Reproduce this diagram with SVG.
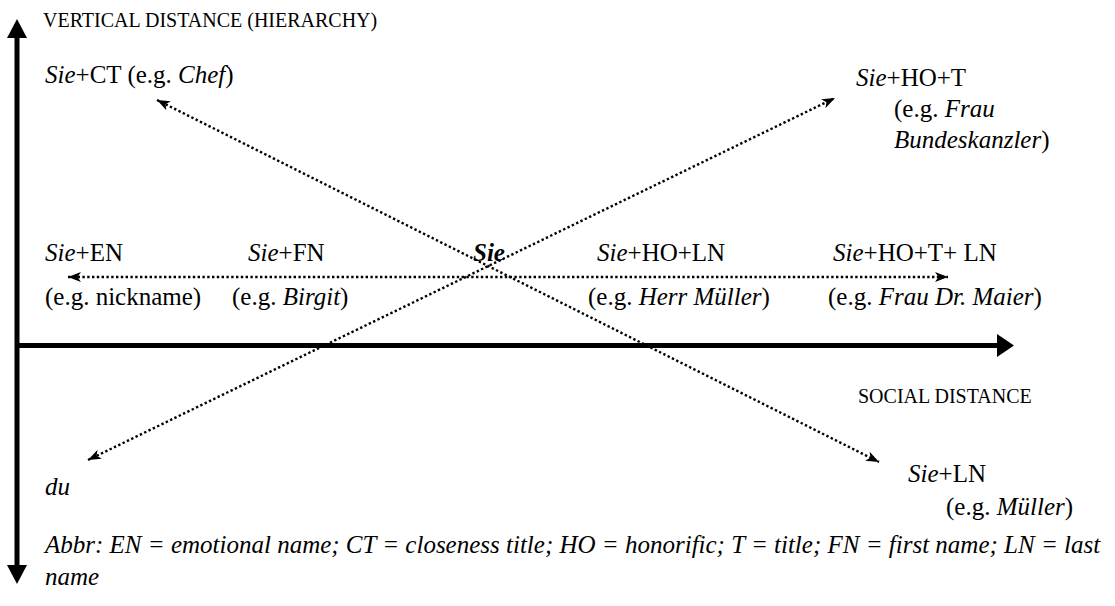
<svg xmlns="http://www.w3.org/2000/svg" width="1115" height="606" viewBox="0 0 1115 606">
<defs>
<style>
text{font-family:"Liberation Serif","Times New Roman",serif;font-size:25px;fill:#000}
.cap{font-size:20px}
.it{font-style:italic}
.b{font-weight:bold}
.dot{fill:none;stroke:#000;stroke-width:2.4;stroke-dasharray:2.4 2.4;marker-start:url(#ah);marker-end:url(#ah)}
.axis{fill:none;stroke:#000;stroke-width:5}
</style>
<marker id="ah" viewBox="0 0 13 10" refX="13" refY="5" markerWidth="13" markerHeight="10" markerUnits="userSpaceOnUse" orient="auto-start-reverse">
<path d="M0,0 L13,5 L0,10 L3.5,5 z" fill="#000"/>
</marker>
</defs>
<rect width="1115" height="606" fill="#fff"/>
<g id="axes">
<line class="axis" x1="17" y1="36" x2="17" y2="566"/>
<polygon points="7,38 17,19 27,38" fill="#000"/>
<polygon points="7,565 17,584 27,565" fill="#000"/>
<line class="axis" x1="15" y1="345.5" x2="998" y2="345.5"/>
<polygon points="997,334 1014,345.5 997,357" fill="#000"/>
</g>
<g id="connectors">
<line class="dot" x1="68" y1="277" x2="948" y2="277"/>
<line class="dot" x1="157" y1="100" x2="879" y2="462"/>
<line class="dot" x1="88" y1="460" x2="835" y2="98"/>
</g>
<g id="label-vertical"><text class="cap" x="43" y="27">VERTICAL DISTANCE (HIERARCHY)</text></g>
<g id="label-social"><text class="cap" x="858" y="403">SOCIAL DISTANCE</text></g>
<g id="node-ct"><text x="45" y="83"><tspan class="it">Sie</tspan>+CT (e.g. <tspan class="it">Chef</tspan>)</text></g>
<g id="node-hot">
<text x="856" y="86"><tspan class="it">Sie</tspan>+HO+T</text>
<text x="894" y="117">(e.g. <tspan class="it">Frau</tspan></text>
<text x="894" y="148"><tspan class="it">Bundeskanzler</tspan>)</text>
</g>
<g id="node-en">
<text x="45" y="261"><tspan class="it">Sie</tspan>+EN</text>
<text x="45" y="305">(e.g. nickname)</text>
</g>
<g id="node-fn">
<text x="248" y="261"><tspan class="it">Sie</tspan>+FN</text>
<text x="232" y="305">(e.g. <tspan class="it">Birgit</tspan>)</text>
</g>
<g id="node-sie"><text class="it b" x="473" y="261">Sie</text></g>
<g id="node-holn">
<text x="597" y="261"><tspan class="it">Sie</tspan>+HO+LN</text>
<text x="588" y="305">(e.g. <tspan class="it">Herr Müller</tspan>)</text>
</g>
<g id="node-hotln">
<text x="833" y="261"><tspan class="it">Sie</tspan>+HO+T+ LN</text>
<text x="828" y="305">(e.g. <tspan class="it">Frau Dr. Maier</tspan>)</text>
</g>
<g id="node-du"><text class="it" x="45" y="495">du</text></g>
<g id="node-ln">
<text x="908" y="482"><tspan class="it">Sie</tspan>+LN</text>
<text x="946" y="515">(e.g. <tspan class="it">Müller</tspan>)</text>
</g>
<g id="abbr">
<text class="it" x="45" y="553">Abbr: EN = emotional name; CT = closeness title; HO = honorific; T = title; FN = first name; LN = last</text>
<text class="it" x="45" y="585">name</text>
</g>
</svg>
